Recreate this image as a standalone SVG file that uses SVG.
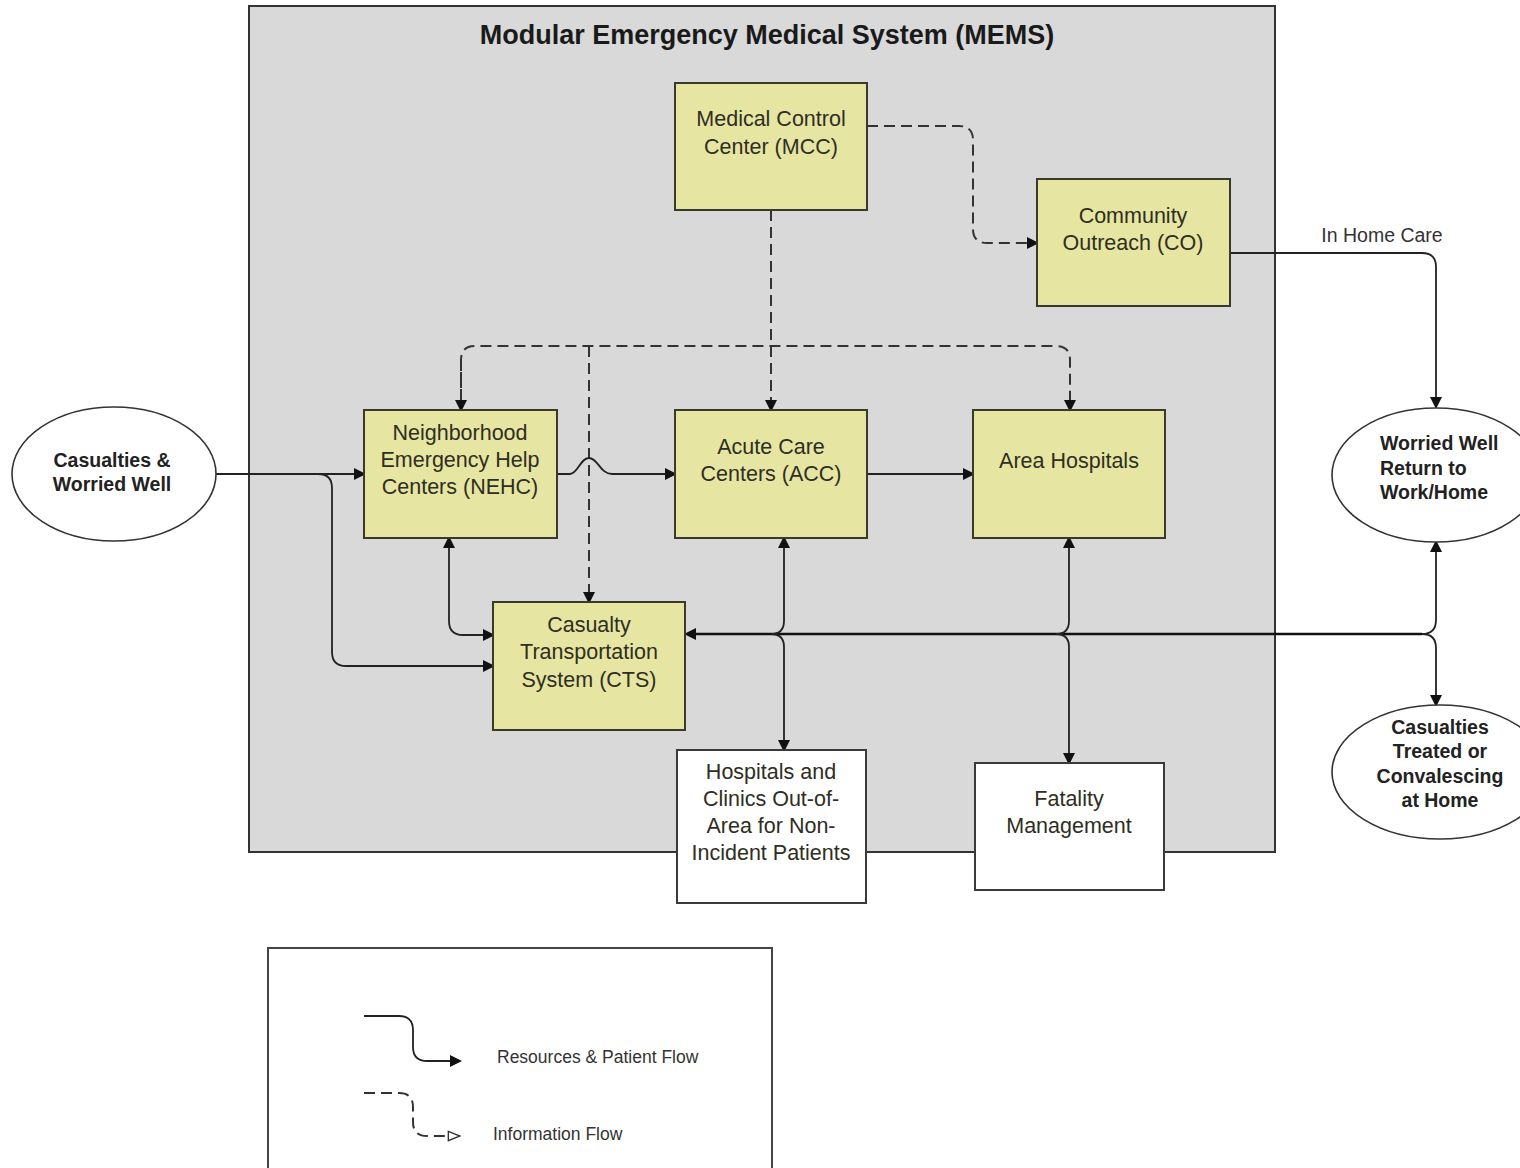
<svg xmlns="http://www.w3.org/2000/svg" width="1520" height="1168" viewBox="0 0 1520 1168">
<style>
.node{fill:#e6e6a2;stroke:#3a3a2c;stroke-width:2}
.wnode{fill:#ffffff;stroke:#3a3a3a;stroke-width:2}
.ell{fill:#ffffff;stroke:#333;stroke-width:1.6}
.nt{font-family:"Liberation Sans",Arial,sans-serif;font-size:21.5px;fill:#2e2e22;text-anchor:middle}
.et{font-family:"Liberation Sans",Arial,sans-serif;font-size:19.5px;font-weight:bold;fill:#222;text-anchor:middle}
.lt{font-family:"Liberation Sans",Arial,sans-serif;font-size:17.5px;fill:#333}
.solid{fill:none;stroke:#222;stroke-width:1.8}
.thick{fill:none;stroke:#111;stroke-width:2.6}
.dash{fill:none;stroke:#333;stroke-width:2;stroke-dasharray:11 6}
</style>
<defs>
<marker id="ah" viewBox="0 0 10 10" refX="0" refY="5" markerWidth="12" markerHeight="12" markerUnits="userSpaceOnUse" orient="auto-start-reverse">
<path d="M0,0 L10,5 L0,10 z" fill="#111"/>
</marker>
<marker id="ao" viewBox="0 0 12 10" refX="11" refY="5" markerWidth="14" markerHeight="12" markerUnits="userSpaceOnUse" orient="auto">
<path d="M1,1 L11,5 L1,9 z" fill="#fff" stroke="#333" stroke-width="1.2"/>
</marker>
</defs>
<rect width="1520" height="1168" fill="#ffffff"/>
<g id="mems">
<rect x="249" y="6" width="1026" height="846" fill="#d9d9d9" stroke="#333" stroke-width="2"/>
<text x="767" y="44" font-family="'Liberation Sans',Arial,sans-serif" font-size="27px" font-weight="bold" fill="#1a1a1a" text-anchor="middle">Modular Emergency Medical System (MEMS)</text>
</g>
<g id="connectors">
<path class="dash" d="M867 126 L959 126 Q973 126 973 140 L973 229 Q973 243 987 243 L1027 243" marker-end="url(#ah)"/>
<path class="dash" d="M771 210 L771 400" marker-end="url(#ah)"/>
<path class="dash" d="M461 400 L461 360 Q461 346 475 346 L1056 346 Q1070 346 1070 360 L1070 400" marker-end="url(#ah)"/>
<path class="dash" d="M461 360 L461 400" marker-end="url(#ah)"/>
<path class="dash" d="M589 346 L589 592" marker-end="url(#ah)"/>
<path class="solid" d="M215 474 L354 474" marker-end="url(#ah)"/>
<path class="solid" d="M318 474 Q332 474 332 488 L332 652 Q332 666 346 666 L483 666" marker-end="url(#ah)"/>
<path class="solid" d="M557 474 L570 474 C578 474 580 458 589 458 C598 458 600 474 612 474 L665 474" marker-end="url(#ah)"/>
<path class="solid" d="M867 474 L963 474" marker-end="url(#ah)"/>
<path class="solid" d="M449 548 L449 621 Q449 635 463 635 L483 635" marker-start="url(#ah)" marker-end="url(#ah)"/>
<path class="thick" d="M1422 634 L696 634" marker-end="url(#ah)"/>
<path class="solid" d="M784 548 L784 621 Q784 634 771 634 Q784 634 784 647 L784 740" marker-start="url(#ah)" marker-end="url(#ah)"/>
<path class="solid" d="M1069 548 L1069 621 Q1069 634 1056 634 Q1069 634 1069 647 L1069 753" marker-start="url(#ah)" marker-end="url(#ah)"/>
<path class="solid" d="M1436 552 L1436 620 Q1436 634 1422 634 Q1436 634 1436 648 L1436 695" marker-start="url(#ah)" marker-end="url(#ah)"/>
<path class="solid" d="M1229 253 L1422 253 Q1436 253 1436 267 L1436 397" marker-end="url(#ah)"/>
<text x="1382" y="242" class="lt" style="font-size:19.5px;text-anchor:middle">In Home Care</text>
</g>
<g id="mcc">
<rect class="node" x="675" y="83" width="192" height="127"/>
<text class="nt" x="771" y="126">Medical Control</text>
<text class="nt" x="771" y="154">Center (MCC)</text>
</g>
<g id="co">
<rect class="node" x="1037" y="179" width="193" height="127"/>
<text class="nt" x="1133" y="223">Community</text>
<text class="nt" x="1133" y="250">Outreach (CO)</text>
</g>
<g id="nehc">
<rect class="node" x="364" y="410" width="193" height="128"/>
<text class="nt" x="460" y="440">Neighborhood</text>
<text class="nt" x="460" y="467">Emergency Help</text>
<text class="nt" x="460" y="494">Centers (NEHC)</text>
</g>
<g id="acc">
<rect class="node" x="675" y="410" width="192" height="128"/>
<text class="nt" x="771" y="454">Acute Care</text>
<text class="nt" x="771" y="481">Centers (ACC)</text>
</g>
<g id="area-hospitals">
<rect class="node" x="973" y="410" width="192" height="128"/>
<text class="nt" x="1069" y="468">Area Hospitals</text>
</g>
<g id="cts">
<rect class="node" x="493" y="602" width="192" height="128"/>
<text class="nt" x="589" y="632">Casualty</text>
<text class="nt" x="589" y="659">Transportation</text>
<text class="nt" x="589" y="687">System (CTS)</text>
</g>
<g id="hospitals-out">
<rect class="wnode" x="677" y="750" width="189" height="153"/>
<text class="nt" x="771" y="779">Hospitals and</text>
<text class="nt" x="771" y="806">Clinics Out-of-</text>
<text class="nt" x="771" y="833">Area for Non-</text>
<text class="nt" x="771" y="860">Incident Patients</text>
</g>
<g id="fatality">
<rect class="wnode" x="975" y="763" width="189" height="127"/>
<text class="nt" x="1069" y="806">Fatality</text>
<text class="nt" x="1069" y="833">Management</text>
</g>
<g id="casualties">
<ellipse class="ell" cx="114" cy="474" rx="102" ry="67"/>
<text class="et" x="112" y="467">Casualties &amp;</text>
<text class="et" x="112" y="491">Worried Well</text>
</g>
<g id="worried-well">
<ellipse class="ell" cx="1436" cy="475" rx="104" ry="67"/>
<text class="et" x="1380" y="450" style="text-anchor:start">Worried Well</text>
<text class="et" x="1380" y="475" style="text-anchor:start">Return to</text>
<text class="et" x="1380" y="499" style="text-anchor:start">Work/Home</text>
</g>
<g id="casualties-home">
<ellipse class="ell" cx="1440" cy="772" rx="108" ry="67"/>
<text class="et" x="1440" y="734">Casualties</text>
<text class="et" x="1440" y="758">Treated or</text>
<text class="et" x="1440" y="783">Convalescing</text>
<text class="et" x="1440" y="807">at Home</text>
</g>
<g id="legend">
<rect x="268" y="948" width="504" height="230" fill="#ffffff" stroke="#444" stroke-width="2"/>
<path class="solid" d="M364 1016 L399 1016 Q413 1016 413 1030 L413 1047 Q413 1061 427 1061 L450 1061" marker-end="url(#ah)"/>
<text class="lt" x="497" y="1063">Resources &amp; Patient Flow</text>
<path class="dash" d="M364 1093 L399 1093 Q413 1093 413 1107 L413 1122 Q413 1136 427 1136 L460 1136" stroke-width="1.6" stroke-dasharray="10 7" marker-end="url(#ao)"/>
<text class="lt" x="493" y="1140">Information Flow</text>
</g>
</svg>
